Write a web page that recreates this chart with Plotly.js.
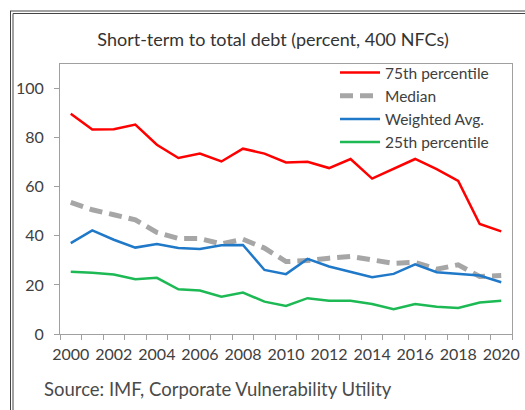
<!DOCTYPE html>
<html>
<head>
<meta charset="utf-8">
<script src="https://cdn.plot.ly/plotly-3.0.1.min.js"></script>
<style>
html,body{margin:0;padding:0;background:#fff;}
#chart{width:525px;height:410px;}
</style>
</head>
<body>
<div id="chart"></div>
<script>
const years = [2000,2001,2002,2003,2004,2005,2006,2007,2008,2009,2010,2011,2012,2013,2014,2015,2016,2017,2018,2019,2020];
const p75 = [89.7,83.3,83.4,85.3,77.1,71.7,73.5,70.3,75.5,73.5,69.9,70.2,67.6,71.3,63.3,67.3,71.3,67.2,62.4,44.8,41.8];
const median = [53.6,50.6,48.6,46.5,41.4,38.9,38.9,36.7,38.6,35.0,29.5,29.9,30.9,31.6,30.2,28.8,29.2,26.4,28.2,23.4,23.8];
const weighted = [37.0,42.2,38.4,35.2,36.7,35.0,34.6,36.2,36.3,26.1,24.4,30.6,27.5,25.4,23.1,24.5,28.4,25.2,24.5,23.8,21.1];
const p25 = [25.4,25.0,24.2,22.3,22.9,18.2,17.7,15.2,16.9,13.2,11.4,14.6,13.5,13.5,12.2,10.1,12.2,11.1,10.6,12.8,13.5];
const tickYears = [2000,2002,2004,2006,2008,2010,2012,2014,2016,2018,2020];
const yTicks = [0,20,40,60,80,100];

const FONT = 'Lato, "Open Sans", sans-serif';
const traces = [
  {x: years, y: p75, name: '75th percentile', mode: 'lines', line: {color: '#ff0000', width: 2.5}},
  {x: years, y: median, name: 'Median', mode: 'lines', line: {color: '#a6a6a6', width: 5, dash: '13px,7px'}},
  {x: years, y: weighted, name: 'Weighted Avg.', mode: 'lines', line: {color: '#1f78c8', width: 2.5}},
  {x: years, y: p25, name: '25th percentile', mode: 'lines', line: {color: '#1db954', width: 2.5}}
];

const L = 60, R = 13, T = 64, B = 76, W = 525 - L - R, H = 410 - T - B;
const px = v => (v - L) / W;
const py = v => (410 - B - v) / H;

const layout = {
  width: 525, height: 410,
  margin: {l: L, r: R, t: T, b: B},
  paper_bgcolor: '#fff', plot_bgcolor: '#fff',
  font: {family: FONT, size: 16, color: '#404040'},
  title: {text: 'Short-term to total debt (percent, 400 NFCs)', x: 0.52, xanchor: 'center', y: 1 - 40/410, yanchor: 'middle', font: {family: FONT, size: 18, color: '#333'}},
  showlegend: true,
  legend: {x: px(335), xanchor: 'left', y: py(56), yanchor: 'top', bgcolor: 'rgba(0,0,0,0)', font: {family: FONT, size: 15.5, color: '#404040'}, tracegroupgap: 0, itemwidth: 40},
  xaxis: {
    range: [1999.5, 2020.5], tickvals: tickYears, ticktext: tickYears.map(String), ticks: '', ticklabelstandoff: 6, showgrid: false, zeroline: false,
    showline: true, linecolor: '#a0a0a0', linewidth: 1, mirror: true,
    minor: {tick0: 1999.5, dtick: 1, ticks: 'outside', ticklen: 5, tickcolor: '#a0a0a0', showgrid: false},
    tickfont: {family: FONT, size: 16, color: '#404040'}, fixedrange: true
  },
  yaxis: {
    range: [0, 110], tickvals: yTicks, ticks: 'outside', ticklen: 5, tickcolor: '#a0a0a0', ticklabelstandoff: 7, showgrid: false, zeroline: false,
    showline: true, linecolor: '#a0a0a0', linewidth: 1, mirror: true,
    tickfont: {family: FONT, size: 16, color: '#404040'}, fixedrange: true
  },
  annotations: [
    {text: 'Source: IMF, Corporate Vulnerability Utility', xref: 'paper', yref: 'paper', x: px(42), y: py(389), xanchor: 'left', yanchor: 'middle', showarrow: false, font: {family: FONT, size: 18.5, color: '#4a4a4a'}}
  ],
  shapes: [
    {type: 'line', xref: 'paper', yref: 'paper', x0: px(10.5), x1: px(10.5), y0: py(11), y1: py(410), line: {color: '#444', width: 1}},
    {type: 'line', xref: 'paper', yref: 'paper', x0: px(13), x1: px(13), y0: py(13.5), y1: py(410), line: {color: '#444', width: 1}},
    {type: 'line', xref: 'paper', yref: 'paper', x0: px(10), x1: px(525), y0: py(11), y1: py(11), line: {color: '#444', width: 1}},
    {type: 'line', xref: 'paper', yref: 'paper', x0: px(13), x1: px(525), y0: py(13.5), y1: py(13.5), line: {color: '#444', width: 1}}
  ]
};

Plotly.newPlot('chart', traces, layout, {displayModeBar: false, staticPlot: true});
</script>
</body>
</html>
